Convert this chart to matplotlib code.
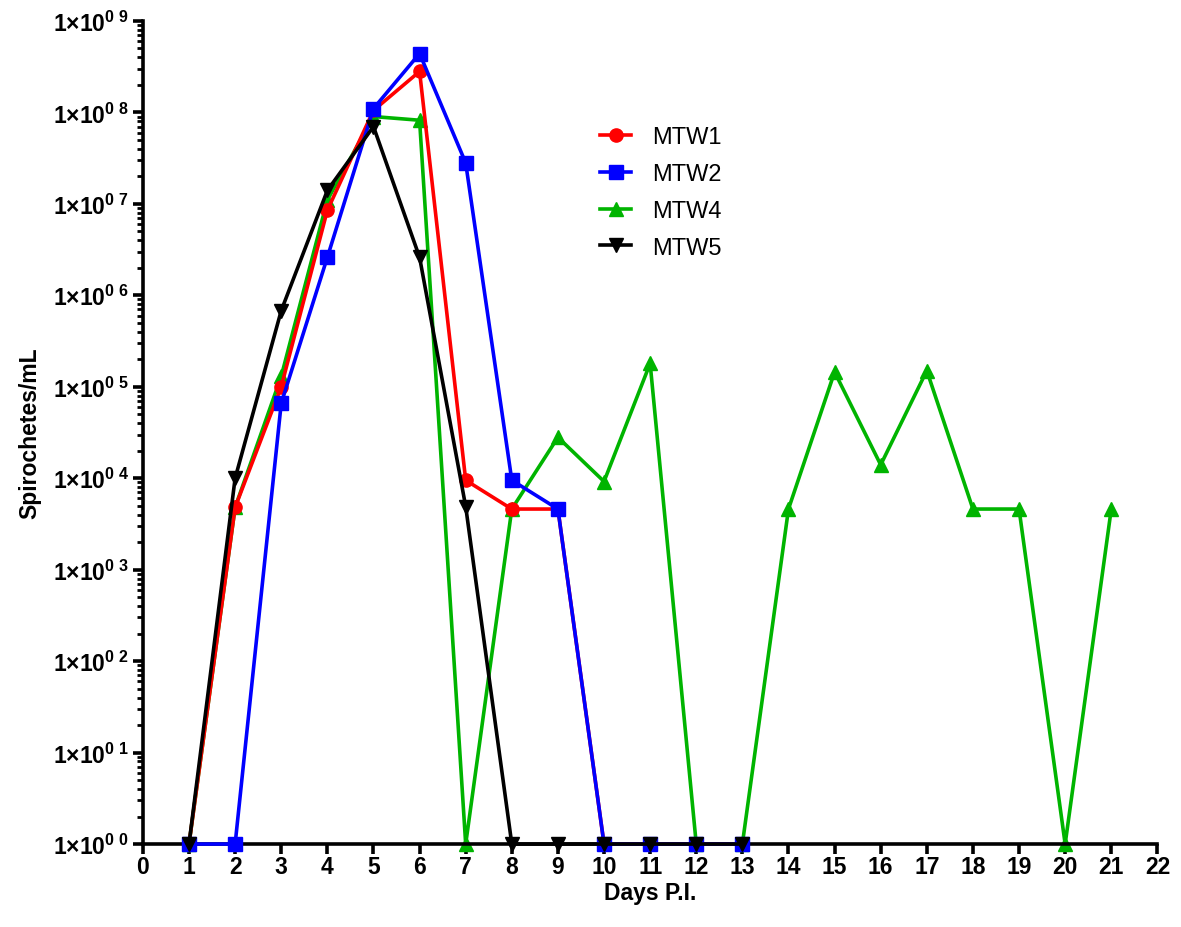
import matplotlib
matplotlib.use("Agg")
import matplotlib.pyplot as plt
from matplotlib.ticker import LogLocator, FixedLocator, NullFormatter

plt.rcParams["font.family"] = ["Liberation Sans", "DejaVu Sans"]
plt.rcParams["mathtext.fontset"] = "custom"
plt.rcParams["mathtext.rm"] = "Liberation Sans:bold"
plt.rcParams["mathtext.it"] = "Liberation Sans:bold"
plt.rcParams["mathtext.bf"] = "Liberation Sans:bold"

days = list(range(1, 22))

mtw1_days = [1, 2, 3, 4, 5, 6, 7, 8, 9, 10, 11, 12, 13]
mtw1 = [1, 4.8e3, 1.0e5, 8.5e6, 1.05e8, 2.8e8, 9.5e3, 4.6e3, 4.6e3, 1, 1, 1, 1]

mtw2_days = [1, 2, 3, 4, 5, 6, 7, 8, 9, 10, 11, 12, 13]
mtw2 = [1, 1, 6.6e4, 2.6e6, 1.1e8, 4.4e8, 2.8e7, 9.5e3, 4.6e3, 1, 1, 1, 1]

mtw4_days = days
mtw4 = [1, 4.8e3, 1.3e5, 1.1e7, 9.0e7, 8.2e7, 1, 4.6e3, 2.8e4, 9.2e3,
        1.8e5, 1, 1, 4.6e3, 1.45e5, 1.4e4, 1.5e5, 4.6e3, 4.6e3, 1, 4.6e3]

mtw5_days = [1, 2, 3, 4, 5, 6, 7, 8, 9, 10, 11, 12, 13]
mtw5 = [1, 1.0e4, 6.8e5, 1.4e7, 7.0e7, 2.6e6, 4.9e3, 1, 1, 1, 1, 1, 1]

exponents = list(range(0, 10))
x_ticks = list(range(0, 23))


def main():
    fig = plt.figure(figsize=(11.81, 9.28), dpi=100)
    ax = fig.add_axes([0.121, 0.0894, 0.859, 0.887])

    lw = 2.6
    ms = 9.5
    ax.plot(mtw1_days, mtw1, color="#ff0000", marker="o", lw=lw, ms=ms, label="MTW1", zorder=3)
    ax.plot(mtw2_days, mtw2, color="#0000ff", marker="s", lw=lw, ms=ms, label="MTW2", zorder=4)
    ax.plot(mtw4_days, mtw4, color="#00b400", marker="^", lw=lw, ms=ms, label="MTW4", zorder=2)
    ax.plot(mtw5_days, mtw5, color="#000000", marker="v", lw=lw, ms=ms, label="MTW5", zorder=5)

    ax.set_yscale("log")
    ax.set_ylim(1, 1e9)
    ax.set_xlim(0, 22)

    ax.yaxis.set_major_locator(FixedLocator([10.0 ** e for e in exponents]))
    ax.set_yticklabels([r"$1{\times}10^{0\ %d}$" % e for e in exponents])
    ax.yaxis.set_minor_locator(LogLocator(base=10, subs=range(2, 10), numticks=100))
    ax.yaxis.set_minor_formatter(NullFormatter())
    ax.set_xticks(x_ticks)
    ax.set_xticklabels([str(t) for t in x_ticks])

    for side in ["top", "right"]:
        ax.spines[side].set_visible(False)
    for side in ["left", "bottom"]:
        ax.spines[side].set_linewidth(2.6)
        ax.spines[side].set_clip_on(False)

    ax.tick_params(axis="both", which="major", direction="out", width=2.6, length=7,
                   labelsize=16.5, pad=3)
    ax.tick_params(axis="x", which="major", pad=1)
    ax.tick_params(axis="y", which="minor", direction="out", width=2, length=4)
    for lab in ax.get_xticklabels():
        lab.set_fontweight("bold")

    ax.set_xlabel("Days P.I.", fontsize=16.5, fontweight="bold", labelpad=2)
    ax.set_ylabel("Spirochetes/mL", fontsize=16.5, fontweight="bold", labelpad=8)

    for line in ax.get_lines():
        line.set_clip_on(False)

    ax.legend(loc="upper left", bbox_to_anchor=(0.43, 0.898), frameon=False,
              fontsize=17, handlelength=1.3, labelspacing=0.63, handletextpad=0.9)

    fig.savefig("out.png", dpi=100)


if __name__ == "__main__":
    main()
